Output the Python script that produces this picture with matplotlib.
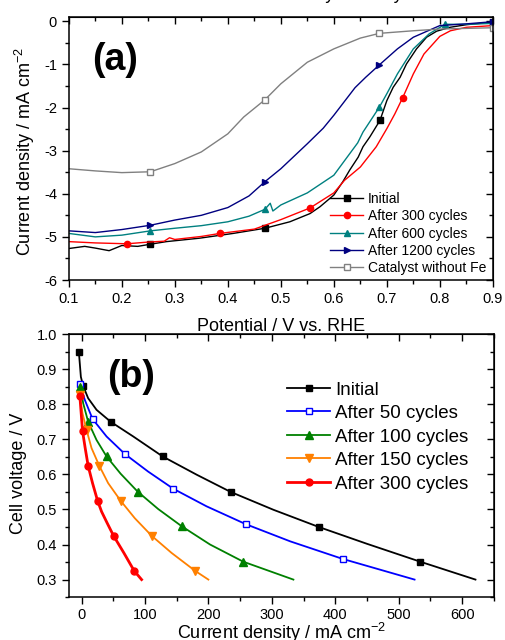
import matplotlib
matplotlib.use('Agg')
import matplotlib.pyplot as plt
from matplotlib.ticker import MultipleLocator

plt.rcParams['font.family'] = ['Liberation Sans', 'DejaVu Sans']
plt.rcParams['mathtext.fontset'] = 'custom'
plt.rcParams['mathtext.rm'] = 'Liberation Sans'
plt.rcParams['axes.unicode_minus'] = False

# ---- panel (a): RDE polarisation curves ----
pot_init = [0.10, 0.13, 0.15, 0.176, 0.20, 0.23, 0.254, 0.284, 0.347, 0.41, 0.47, 0.517, 0.555, 0.574, 0.60, 0.617, 0.63, 0.646, 0.655, 0.668, 0.687, 0.70, 0.712, 0.725, 0.737, 0.756, 0.775, 0.794, 0.819, 0.85, 0.90]
cur_init = [-5.27, -5.22, -5.26, -5.32, -5.20, -5.22, -5.17, -5.11, -5.03, -4.92, -4.80, -4.65, -4.46, -4.30, -4.03, -3.72, -3.45, -3.15, -2.91, -2.68, -2.30, -1.84, -1.53, -1.30, -0.99, -0.64, -0.37, -0.23, -0.14, -0.08, -0.02]
mk_init = [0.254, 0.47, 0.687, 0.90]

pot_300 = [0.10, 0.15, 0.21, 0.25, 0.28, 0.29, 0.30, 0.35, 0.385, 0.45, 0.50, 0.555, 0.60, 0.62, 0.65, 0.68, 0.70, 0.715, 0.73, 0.75, 0.77, 0.80, 0.82, 0.85, 0.90]
cur_300 = [-5.11, -5.14, -5.16, -5.12, -5.10, -5.02, -5.06, -4.99, -4.92, -4.82, -4.60, -4.33, -3.98, -3.69, -3.38, -2.91, -2.49, -2.15, -1.77, -1.22, -0.76, -0.35, -0.22, -0.14, -0.10]
mk_300 = [0.21, 0.385, 0.555, 0.73]

pot_600 = [0.10, 0.15, 0.20, 0.254, 0.30, 0.35, 0.40, 0.44, 0.47, 0.48, 0.485, 0.50, 0.55, 0.60, 0.63, 0.645, 0.655, 0.686, 0.70, 0.72, 0.75, 0.78, 0.81, 0.85, 0.90]
cur_600 = [-4.92, -5.00, -4.96, -4.86, -4.80, -4.74, -4.65, -4.52, -4.36, -4.22, -4.40, -4.26, -3.98, -3.57, -3.07, -2.82, -2.57, -1.99, -1.68, -1.22, -0.64, -0.29, -0.07, -0.07, -0.05]
mk_600 = [0.254, 0.47, 0.686, 0.81]

pot_1200 = [0.10, 0.15, 0.20, 0.254, 0.30, 0.35, 0.40, 0.44, 0.47, 0.50, 0.55, 0.58, 0.60, 0.64, 0.66, 0.686, 0.72, 0.75, 0.80, 0.85, 0.90]
cur_1200 = [-4.86, -4.90, -4.83, -4.73, -4.61, -4.50, -4.32, -4.05, -3.72, -3.42, -2.84, -2.48, -2.18, -1.54, -1.30, -1.01, -0.64, -0.37, -0.10, -0.06, -0.01]
mk_1200 = [0.254, 0.47, 0.686, 0.90]

pot_nofe = [0.10, 0.15, 0.20, 0.254, 0.30, 0.35, 0.40, 0.43, 0.47, 0.50, 0.55, 0.60, 0.65, 0.686, 0.75, 0.80, 0.90]
cur_nofe = [-3.42, -3.47, -3.51, -3.49, -3.30, -3.03, -2.61, -2.22, -1.82, -1.45, -0.95, -0.64, -0.39, -0.28, -0.22, -0.18, -0.15]
mk_nofe = [0.254, 0.47, 0.686, 0.90]

# ---- panel (b): fuel-cell polarisation curves ----
j_init = [-4.2, -1.0, 2.6, 10.5, 23.7, 46, 81.6, 128, 181.6, 235, 302.6, 374, 450, 534, 621]
v_init = [0.95, 0.878, 0.852, 0.817, 0.784, 0.75, 0.708, 0.651, 0.599, 0.55, 0.499, 0.45, 0.402, 0.351, 0.30]
mk_b_init = [-4.2, 2.6, 46, 128, 235, 374, 534]

j_50 = [-2.6, 5.3, 17.4, 39.5, 68.4, 105, 144.7, 197, 259, 329, 411.6, 525]
v_50 = [0.858, 0.812, 0.758, 0.708, 0.658, 0.608, 0.559, 0.509, 0.458, 0.409, 0.359, 0.30]
mk_b_50 = [-2.6, 17.4, 68.4, 144.7, 259, 411.6]

j_100 = [-1.6, 2.6, 10.5, 23.7, 39.5, 61.6, 88.4, 121, 158, 202.6, 255, 334]
v_100 = [0.85, 0.803, 0.75, 0.698, 0.651, 0.602, 0.551, 0.501, 0.452, 0.40, 0.351, 0.30]
mk_b_100 = [-1.6, 10.5, 39.5, 88.4, 158, 255]

j_150 = [-2.6, 1.6, 7.9, 15.8, 27.9, 42, 61.6, 84, 110.5, 142, 179, 200]
v_150 = [0.826, 0.774, 0.727, 0.675, 0.625, 0.575, 0.525, 0.475, 0.425, 0.376, 0.325, 0.30]
mk_b_150 = [-2.6, 7.9, 27.9, 61.6, 110.5, 179]

j_300 = [-2.6, -0.5, 1.6, 5.8, 10.5, 17.4, 25.3, 31.6, 40.5, 50.5, 66.8, 83, 94.7]
v_300 = [0.823, 0.774, 0.724, 0.675, 0.624, 0.575, 0.525, 0.494, 0.461, 0.425, 0.376, 0.325, 0.30]
mk_b_300 = [-2.6, 1.6, 10.5, 25.3, 50.5, 83]


def idx(xs, marks):
    return [xs.index(m) for m in marks]


def style_axes(ax, xmaj, xmin, ymaj, ymin):
    ax.xaxis.set_major_locator(MultipleLocator(xmaj))
    ax.xaxis.set_minor_locator(MultipleLocator(xmin))
    ax.yaxis.set_major_locator(MultipleLocator(ymaj))
    ax.yaxis.set_minor_locator(MultipleLocator(ymin))
    ax.tick_params(which='both', direction='out', labelsize=10.5, width=1)
    ax.tick_params(which='major', length=5)
    ax.tick_params(which='minor', length=3)
    for s in ax.spines.values():
        s.set_linewidth(1.1)
    top = ax.secondary_xaxis('top')
    right = ax.secondary_yaxis('right')
    top.xaxis.set_major_locator(MultipleLocator(xmaj))
    top.xaxis.set_minor_locator(MultipleLocator(xmin))
    right.yaxis.set_major_locator(MultipleLocator(ymaj))
    right.yaxis.set_minor_locator(MultipleLocator(ymin))
    for sec in (top, right):
        sec.tick_params(which='both', direction='in', labeltop=False, labelright=False, width=1)
        sec.tick_params(which='major', length=5)
        sec.tick_params(which='minor', length=3)


fig = plt.figure(figsize=(5.06, 6.4), dpi=100)
ax1 = fig.add_axes([0.136, 0.5625, 0.838, 0.411])
ax2 = fig.add_axes([0.136, 0.067, 0.84, 0.411])

# panel (a)
ax1.plot(pot_init, cur_init, color='black', lw=1, marker='s', ms=4,
         markevery=idx(pot_init, mk_init), label='Initial')
ax1.plot(pot_300, cur_300, color='red', lw=1, marker='o', ms=4.5,
         markevery=idx(pot_300, mk_300), label='After 300 cycles')
ax1.plot(pot_600, cur_600, color='#008080', lw=1, marker='^', ms=5,
         markevery=idx(pot_600, mk_600), label='After 600 cycles')
ax1.plot(pot_1200, cur_1200, color='#000080', lw=1, marker='>', ms=5,
         markevery=idx(pot_1200, mk_1200), label='After 1200 cycles')
ax1.plot(pot_nofe, cur_nofe, color='#808080', lw=1, marker='s', ms=5, mfc='white',
         markevery=idx(pot_nofe, mk_nofe), label='Catalyst without Fe')
ax1.set_xlim(0.1, 0.9)
ax1.set_ylim(-6, 0.1)
style_axes(ax1, 0.1, 0.05, 1, 0.5)
ax1.set_ylabel('Current density / mA cm$^{-2}$', fontsize=13)
ax1.yaxis.set_label_coords(-0.075, 0.487)
ax1.set_xlabel('Potential / V vs. RHE', fontsize=13, va='top')
ax1.xaxis.set_label_coords(0.5, -0.144)
ax1.text(0.054, 0.80, '(a)', transform=ax1.transAxes, fontsize=27, fontweight='bold')
ax1.legend(loc='upper left', bbox_to_anchor=(0.616, 0.335), frameon=False, fontsize=10,
           handlelength=2.4, handletextpad=0.3, labelspacing=0.24,
           borderpad=0, borderaxespad=0)

# panel (b)
ax2.plot(j_init, v_init, color='black', lw=1.3, marker='s', ms=4.5,
         markevery=idx(j_init, mk_b_init), label='Initial')
ax2.plot(j_50, v_50, color='#0000FF', lw=1.3, marker='s', ms=4.5, mfc='white',
         markevery=idx(j_50, mk_b_50), label='After 50 cycles')
ax2.plot(j_100, v_100, color='#008000', lw=1.3, marker='^', ms=5.5,
         markevery=idx(j_100, mk_b_100), label='After 100 cycles')
ax2.plot(j_150, v_150, color='#FF8000', lw=1.3, marker='v', ms=5.5,
         markevery=idx(j_150, mk_b_150), label='After 150 cycles')
ax2.plot(j_300, v_300, color='#FF0000', lw=2, marker='o', ms=5,
         markevery=idx(j_300, mk_b_300), label='After 300 cycles')
ax2.set_xlim(-20, 650)
ax2.set_ylim(0.25, 1.0)
style_axes(ax2, 100, 50, 0.1, 0.05)
ax2.tick_params(axis='x', which='major', pad=2.5)
ax2.set_ylabel('Cell voltage / V', fontsize=13)
ax2.yaxis.set_label_coords(-0.099, 0.47)
ax2.set_xlabel('Current density / mA cm$^{-2}$', fontsize=13, va='top')
ax2.xaxis.set_label_coords(0.5, -0.09)
ax2.text(0.09, 0.80, '(b)', transform=ax2.transAxes, fontsize=27, fontweight='bold')
ax2.legend(loc='upper left', bbox_to_anchor=(0.514, 0.82), frameon=False, fontsize=13.5,
           handlelength=2.3, handletextpad=0.27, labelspacing=0.34,
           borderpad=0, borderaxespad=0)

# title cut off at the top edge of the original picture
fig.text(0.7955, 1.0016, 'Activity Stability', ha='right', va='baseline', fontsize=13)

fig.savefig('out.png', dpi=100)
